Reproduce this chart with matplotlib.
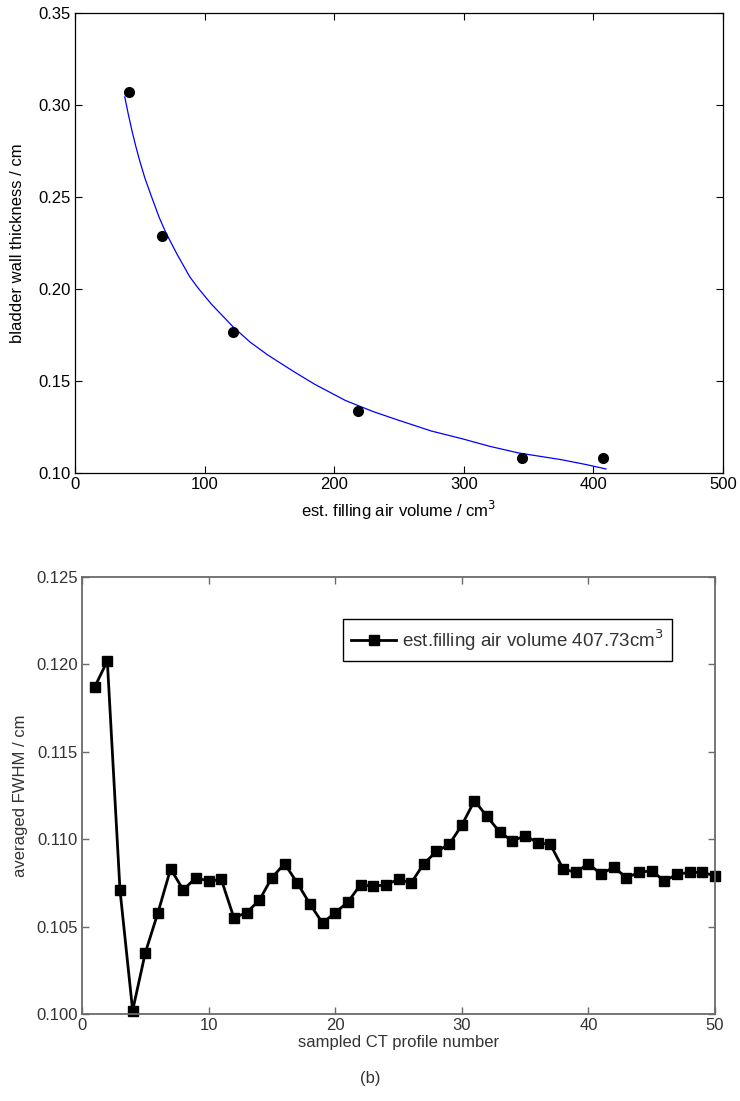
import matplotlib
matplotlib.use("Agg")
import matplotlib.pyplot as plt

plt.rcParams['font.family'] = ['Liberation Sans Narrow', 'Liberation Sans', 'DejaVu Sans']

# (a) wall thickness vs filling volume
vol_pts = [41.7, 67.1, 122.2, 218.7, 344.6, 407.7]
thick_pts = [0.3072, 0.2286, 0.1766, 0.1335, 0.1080, 0.1080]

# fitted curve
fit_x = [38.4, 41, 44, 47, 50, 54, 59.4, 65, 70, 78.5, 88.5, 95, 105.2, 121.9,
         135, 148.6, 168.6, 185, 208.7, 230, 248.7, 275, 298.8, 320, 342.2,
         375.6, 395, 409.7]
fit_y = [0.3044, 0.2954, 0.2859, 0.2773, 0.2695, 0.2601, 0.2495, 0.2388, 0.2308,
         0.2192, 0.2067, 0.2005, 0.1918, 0.1795, 0.1712, 0.1642, 0.1552, 0.1482,
         0.1394, 0.1334, 0.1289, 0.1228, 0.1186, 0.1145, 0.1109, 0.1072, 0.1045,
         0.1022]

# (b) averaged FWHM per sampled profile
profile_no = list(range(1, 51))
fwhm = [0.1187, 0.1202, 0.1071, 0.1002, 0.1035, 0.1058, 0.1083, 0.1071, 0.1078, 0.1076,
        0.1077, 0.1055, 0.1058, 0.1065, 0.1078, 0.1086, 0.1075, 0.1063, 0.1052, 0.1058,
        0.1064, 0.1074, 0.1073, 0.1074, 0.1077, 0.1075, 0.1086, 0.1093, 0.1097, 0.1108,
        0.1122, 0.1113, 0.1104, 0.1099, 0.1102, 0.1098, 0.1097, 0.1083, 0.1081, 0.1086,
        0.1080, 0.1084, 0.1078, 0.1081, 0.1082, 0.1076, 0.1080, 0.1081, 0.1081, 0.1079]

fig = plt.figure(figsize=(7.4, 11.01), dpi=100)

# ---- top panel
ax1 = fig.add_axes([75/740, 1-473/1101, (723-75)/740, (473-13)/1101])
ax1.plot(fit_x, fit_y, color='#0000ff', lw=0.9)
ax1.plot(vol_pts, thick_pts, 'o', color='black', ms=7)
ax1.set_xlim(0, 500)
ax1.set_ylim(0.10, 0.35)
ax1.set_xticks([0, 100, 200, 300, 400, 500])
ax1.set_yticks([0.10, 0.15, 0.20, 0.25, 0.30, 0.35])
ax1.set_yticklabels(['0.10', '0.15', '0.20', '0.25', '0.30', '0.35'])
ax1.tick_params(direction='in', top=True, right=True, length=5, width=0.8,
                labelsize=12, pad=3, colors='black')
for s in ax1.spines.values():
    s.set_linewidth(0.9)
    s.set_color('black')
ax1.set_xlabel('est. filling air volume / cm$^3$', fontsize=12, labelpad=5)
ax1.set_ylabel('bladder wall thickness / cm', fontsize=12, labelpad=10)

# ---- bottom panel
gcol = '#6a6a6a'
tcol = '#333333'
ax2 = fig.add_axes([82/740, 1-1014/1101, (715-82)/740, (1014-577)/1101])
ax2.plot(profile_no, fwhm, '-s', color='black', lw=2, ms=7,
         label='est.filling air volume 407.73cm$^3$', clip_on=False)
ax2.set_xlim(0, 50)
ax2.set_ylim(0.100, 0.125)
ax2.set_xticks([0, 10, 20, 30, 40, 50])
ax2.set_yticks([0.100, 0.105, 0.110, 0.115, 0.120, 0.125])
ax2.set_yticklabels(['0.100', '0.105', '0.110', '0.115', '0.120', '0.125'])
ax2.tick_params(direction='in', top=True, right=True, length=5, width=1,
                labelsize=12, pad=3, color=gcol, labelcolor=tcol)
for s in ax2.spines.values():
    s.set_linewidth(1.3)
    s.set_color(gcol)
ax2.set_xlabel('sampled CT profile number', fontsize=12, color=tcol, labelpad=1)
ax2.set_ylabel('averaged FWHM / cm', fontsize=12, color=tcol, labelpad=6)
leg = ax2.legend(loc='upper right', bbox_to_anchor=(672/740, 1-619/1101),
                 bbox_transform=fig.transFigure, borderaxespad=0, fancybox=False,
                 edgecolor='black', framealpha=1, fontsize=13.5, handlelength=2.4,
                 borderpad=0.45, handletextpad=0.3)
leg.get_frame().set_linewidth(1.0)
for t in leg.get_texts():
    t.set_color(tcol)

fig.text(0.5, 1-1078/1101, '(b)', ha='center', va='center', fontsize=12, color=tcol)

fig.savefig('out.png', dpi=100)
